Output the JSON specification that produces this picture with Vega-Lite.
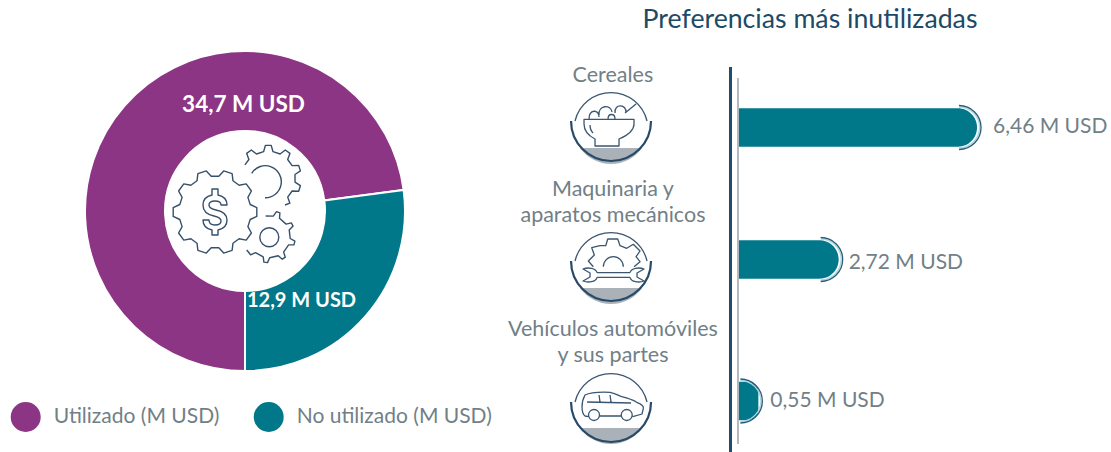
{
"$schema":"https://vega.github.io/schema/vega-lite/v6.json",
"padding":0,
"autosize":{"type":"pad","contains":"padding"},
"background":"white",
"config":{"view":{"stroke":null},"font":"Lato"},
"bounds":"flush",
"spacing":0,
"hconcat":[
{
 "width":490,"height":422,
 "data":{"values":[
  {"estado":"Utilizado (M USD)","valor":34.7,"orden":1,"etiqueta":"34,7 M USD"},
  {"estado":"No utilizado (M USD)","valor":12.9,"orden":2,"etiqueta":"12,9 M USD"}
 ]},
 "layer":[
  {"mark":{"type":"arc","radius":160,"radius2":80,"stroke":"white","strokeWidth":2},
   "encoding":{
    "theta":{"field":"valor","type":"quantitative","stack":true,"scale":{"range":[3.1416,9.4248]}},
    "order":{"field":"orden","type":"ordinal"},
    "color":{"field":"estado","type":"nominal","scale":{"domain":["Utilizado (M USD)","No utilizado (M USD)"],"range":["#8c3584","#00788a"]},
     "legend":{"orient":"none","legendX":10.7,"legendY":402,"direction":"horizontal","title":null,"symbolType":"circle","symbolSize":900,"symbolStrokeWidth":0,"labelFontSize":21,"labelColor":"#717f87","labelFont":"Lato","labelOffset":13,"labelLimit":260,"columnPadding":34,"columns":2}}
   }},
  {"transform":[{"filter":"datum.orden===1"}],
   "mark":{"type":"text","dx":-1.5,"dy":-106,"fontSize":22.5,"fontWeight":"bold","color":"white","font":"Lato"},
   "encoding":{"text":{"field":"etiqueta"}}},
  {"transform":[{"filter":"datum.orden===2"}],
   "mark":{"type":"text","dx":56.5,"dy":90,"fontSize":20,"fontWeight":"bold","color":"white","font":"Lato"},
   "encoding":{"text":{"field":"etiqueta"}}},
  {"transform":[{"filter":"datum.orden===1"}],
   "mark":{"type":"point","size":4,"filled":false,"stroke":"#36506b","strokeWidth":1.4,"opacity":1,"strokeJoin":"round",
    "shape":"M-26.2 -34.8 L-21.3 -40.1 L-12.9 -37.4 L-12 -30.2 L-5.9 -25.8 L1.2 -27.1 L6.4 -20 L2.9 -13.6 L5.2 -6.5 L11.8 -3.4 L11.8 5.4 L5.2 8.5 L2.9 15.6 L6.4 22 L1.2 29.1 L-5.9 27.8 L-12 32.2 L-12.9 39.4 L-21.3 42.1 L-26.2 36.8 L-33.8 36.8 L-38.7 42.1 L-47.1 39.4 L-48 32.2 L-54.1 27.8 L-61.2 29.1 L-66.4 22 L-62.9 15.6 L-65.2 8.5 L-71.8 5.4 L-71.8 -3.4 L-65.2 -6.5 L-62.9 -13.6 L-66.4 -20 L-61.2 -27.1 L-54.1 -25.8 L-48 -30.2 L-47.1 -37.4 L-38.7 -40.1 L-33.8 -34.8 Z M-27 -22 L-33 -22 L-33 -16 C-38 -15 -42 -12 -42 -6 C-42 2 -36 4 -31 5 C-26 6 -24 7 -24 10 C-24 13 -27 14 -30 14 C-33 14 -36 13 -36 9 L-42 9 C-42 15 -38 18 -33 19 L-33 24 L-27 24 L-27 19 C-22 18 -18 15 -18 9 C-18 2 -24 0 -29 -1 C-34 -2 -36 -3 -36 -6 C-36 -9 -33 -10 -30 -10 C-27 -10 -24 -9 -24 -6 L-18 -6 C-18 -12 -22 -15 -27 -16 Z M-0.1 -46.2 L3.9 -51.5 L1.7 -57.6 L6.3 -61 L11.5 -57 L18.6 -59.3 L20.4 -65.6 L26.2 -65.6 L28 -59.3 L35.1 -57 L40.3 -61 L44.9 -57.6 L42.7 -51.5 L47.1 -45.4 L53.7 -45.6 L55.4 -40.1 L50 -36.5 L50 -28.9 L55.4 -25.3 L53.7 -19.8 L47.1 -20 L42.7 -13.9 L44.9 -7.8 L40 -6 M6.7 -37.7 A16 16 0 1 1 20 -13.3 M20.7 5 L28.3 5.1 L31.5 0.7 L34.9 1.9 L34.5 7.3 L41.1 13.1 L46.3 11.9 L48.1 15.1 L44.2 18.9 L45.2 27.5 L49.9 30.2 L49 33.7 L43.6 33.9 L38.6 41.1 L40.3 46.2 L37.3 48.2 L33.2 44.7 L24.7 46.7 L22.5 51.6 L18.9 51.1 L18.2 45.8 L10.5 41.6 L5.6 43.8 L1.7 39 M33.8 26.3 A9.5 9.5 0 1 1 14.8 26.3 A9.5 9.5 0 1 1 33.8 26.3"},
   "encoding":{}}
 ]
},
{
 "width":621,"height":452,
 "data":{"values":[
  {"categoria":"Cereales","rotulo":"Cereales","valor":6.46,"etiqueta":"6,46 M USD","orden":1},
  {"categoria":"Maquinaria y aparatos mecánicos","rotulo":"Maquinaria  y|aparatos mecánicos","valor":2.72,"etiqueta":"2,72 M USD","orden":2},
  {"categoria":"Vehículos automóviles y sus partes","rotulo":"Vehículos automóviles|y sus partes","valor":0.55,"etiqueta":"0,55 M USD","orden":3}
 ]},
 "encoding":{
  "x":{"type":"quantitative","scale":{"domain":[-6.703,10.081],"nice":false,"zero":false},"axis":null},
  "y":{"type":"nominal","scale":{"domain":["Cereales","Maquinaria y aparatos mecánicos","Vehículos automóviles y sus partes"],"range":[58.75,468.25],"paddingInner":0,"paddingOuter":0},"axis":null}
 },
 "layer":[
  {"mark":{"type":"bar","size":38.5,"cornerRadiusEnd":19.2,"color":"#00788a","yOffset":{"expr":"datum.orden===1?0.5:datum.orden===2?-4:1"}},
   "encoding":{"x":{"field":"valor","type":"quantitative","stack":null},"y":{"field":"categoria","type":"nominal"}}},
  {"mark":{"type":"point","size":4,"filled":false,"stroke":"#a9d8e0","strokeWidth":1.3,"opacity":1,"yOffset":{"expr":"datum.orden===1?0.5:datum.orden===2?-4:1"},"shape":"M-18 -20.5 A20.5 20.5 0 0 1 -18 20.5"},
   "encoding":{"x":{"field":"valor","type":"quantitative"},"y":{"field":"categoria","type":"nominal"}}},
  {"mark":{"type":"point","size":4,"filled":false,"stroke":"#2b5a78","strokeWidth":1.3,"opacity":1,"yOffset":{"expr":"datum.orden===1?0.5:datum.orden===2?-4:1"},"shape":"M-18 -22 A22 22 0 0 1 -18 22"},
   "encoding":{"x":{"field":"valor","type":"quantitative"},"y":{"field":"categoria","type":"nominal"}}},
  {"mark":{"type":"text","align":"left","baseline":"middle","dx":{"expr":"datum.orden===1?16:datum.orden===2?10:12"},"fontSize":21,"color":"#717f87","font":"Lato","yOffset":{"expr":"datum.orden===1?0:datum.orden===2?-1:1"}},
   "encoding":{"x":{"field":"valor","type":"quantitative"},"y":{"field":"categoria","type":"nominal"},"text":{"field":"etiqueta"}}},
  {"mark":{"type":"rule","color":"#1f4e70","strokeWidth":3,"y":67,"y2":452},
   "encoding":{"x":{"datum":-0.203}}},
  {"mark":{"type":"rule","color":"#b3b8be","strokeWidth":1.5,"y":78,"y2":444},
   "encoding":{"x":{"datum":0}}},
  {"mark":{"type":"text","align":"center","baseline":"middle","fontSize":21.5,"lineHeight":26,"lineBreak":"|","color":"#717f87","font":"Lato","yOffset":{"expr":"datum.orden===1?-51:datum.orden===2?-73.5:-70"}},
   "encoding":{"x":{"datum":-3.38},"y":{"field":"categoria","type":"nominal"},"text":{"field":"rotulo"}}},
  {"mark":{"type":"point","size":4,"filled":true,"fill":"#aab1b8","strokeWidth":0,"opacity":1,"yOffset":{"expr":"datum.orden===1?0:datum.orden===2?3.5:7"},"shape":"M-31 21 L31 21 A38 38 0 0 1 -31 21 Z"},
   "encoding":{"x":{"datum":-3.432},"y":{"field":"categoria","type":"nominal"}}},
  {"mark":{"type":"point","size":4,"filled":false,"stroke":"#3a5670","strokeWidth":1.3,"opacity":1,"yOffset":{"expr":"datum.orden===1?0:datum.orden===2?3.5:8"},"shape":"M-36 -6 A37 37 0 0 1 36 -6"},
   "encoding":{"x":{"datum":-3.432},"y":{"field":"categoria","type":"nominal"}}},
  {"mark":{"type":"point","size":4,"filled":false,"stroke":"#274a68","strokeWidth":2.2,"opacity":1,"yOffset":{"expr":"datum.orden===1?0:datum.orden===2?3.5:8"},"shape":"M-40 -6 A40 40 0 0 0 40 -6"},
   "encoding":{"x":{"datum":-3.432},"y":{"field":"categoria","type":"nominal"}}},
  {"mark":{"type":"point","size":4,"filled":false,"stroke":"#3a5670","strokeWidth":1.3,"opacity":1,"strokeJoin":"round","yOffset":{"expr":"datum.orden===1?0:datum.orden===2?3.5:8"}},
   "encoding":{"x":{"datum":-3.432},"y":{"field":"categoria","type":"nominal"},
    "shape":{"field":"categoria","type":"nominal","legend":null,"scale":{"domain":["Cereales","Maquinaria y aparatos mecánicos","Vehículos automóviles y sus partes"],"range":[
     "M-27 -7.7 L23 -7.7 L23 -3 C23 4 15 9 8 12 L8 19 L-16 19 L-16 12 C-22 9 -27 4 -27 -3 Z M-21 -2 C-21 1 -20 4 -18 6 M-22 -8 C-22 -18 -12 -18 -12 -10 M-12 -12 C-13 -22 0 -23 1 -15 M-3 -8 C-3 -14 4 -14 4 -8 M4 -14 C3 -24 16 -23 15 -14 M14 -14 L25 -23",
     "M-17.7 -0.3 L-22.7 -6 L-16.7 -12 L-19.3 -19.3 L-11 -21.3 L-5.3 -21.3 L-3.3 -28 L6.7 -28 L9 -21.3 L15.7 -18.7 L22.3 -22.7 L29 -16 L25 -10.3 L29 -5.3 L23 -0.3 M-7.7 -0.3 A10 10 0 0 1 12.3 -0.3 M-14 5.7 L19 5.7 M-14 10.3 L19 10.3 M-14 5.7 C-15 1 -23 0 -28 2 L-21 6 L-21 10 L-28 14 C-23 16 -15 15 -14 10.3 M19 5.7 C20 1 28 0 33 2 L26 6 L26 10 L33 14 C28 16 20 15 19 10.3",
     "M-22.7 8.7 L-26 8 C-30 5 -30 -6 -26 -13 C-20 -16 -8 -16 -1 -15.7 C4 -15 8 -12 10.7 -11.3 C16 -10 22 -8 25.7 -5.7 C30 -4 33 -2 32.3 0.3 L31 6 L21.7 8.7 M-11.5 7 A5.5 5.5 0 1 1 -22.5 7 A5.5 5.5 0 1 1 -11.5 7 M21.2 7 A5.5 5.5 0 1 1 10.2 7 A5.5 5.5 0 1 1 21.2 7 M-11.5 8 L10 8 M-24 -6 L20 -5 M-12 -13 L-11 -6 M-1 -13 L0 -6"
    ]}}}},
  {"data":{"values":[{"titulo":"Preferencias más inutilizadas"}]},
   "mark":{"type":"text","align":"center","baseline":"middle","dy":-107,"fontSize":26.7,"color":"#1d4a66","font":"Lato"},
   "encoding":{"x":{"datum":1.946},"y":{"datum":"Cereales"},"text":{"field":"titulo"}}}
 ]
}
]
}
